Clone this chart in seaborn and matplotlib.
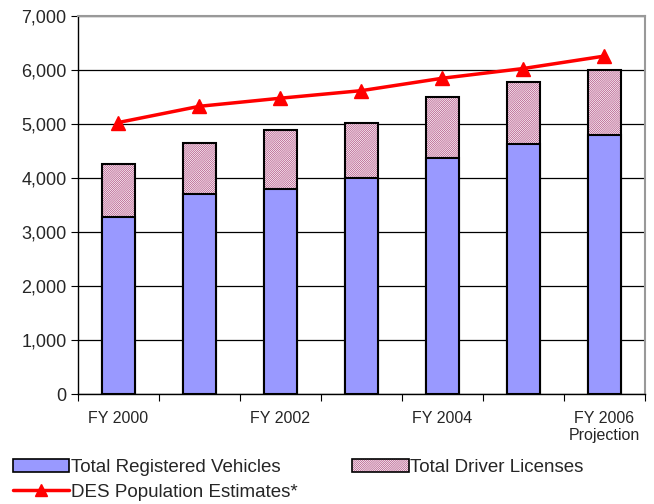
import matplotlib
matplotlib.use("Agg")
import matplotlib.pyplot as plt
import seaborn as sns
import pandas as pd
import numpy as np
from matplotlib.patches import Patch
from matplotlib.lines import Line2D
from matplotlib.legend_handler import HandlerTuple

categories = ["FY 2000", "FY 2001", "FY 2002", "FY 2003", "FY 2004", "FY 2005", "FY 2006"]
tick_labels = ["FY 2000", "", "FY 2002", "", "FY 2004", "", "FY 2006\nProjection"]
vehicles = [3280, 3700, 3800, 4000, 4370, 4630, 4800]
totals = [4260, 4650, 4890, 5030, 5510, 5780, 6000]
population = [5030, 5330, 5480, 5620, 5850, 6030, 6260]

df = pd.DataFrame({"cat": categories, "veh": vehicles, "tot": totals, "pop": population})

sns.set_style("white")
plt.rcParams["font.family"] = ["Liberation Sans", "DejaVu Sans"]
plt.rcParams["hatch.linewidth"] = 0.5

fig = plt.figure(figsize=(6.54, 5.04), dpi=100)
ax = fig.add_axes([0.119, 0.218, 0.867, 0.750])

blue = "#9999FF"
hatch_col = "#B04C80"
HATCH = "/" * 16

# total (licenses on top) hatched bar
sns.barplot(data=df, x="cat", y="tot", ax=ax, color="white", width=0.4,
            saturation=1, edgecolor=hatch_col, linewidth=0, hatch=HATCH, zorder=2)
sns.barplot(data=df, x="cat", y="tot", ax=ax, fill=False, width=0.4,
            edgecolor="black", linewidth=1.5, zorder=3)
sns.barplot(data=df, x="cat", y="veh", ax=ax, color=blue, width=0.4,
            saturation=1, edgecolor="black", linewidth=1.5, zorder=4)

ax.plot(np.arange(len(categories)), population, color="red", lw=2.5,
        marker="^", markersize=10, zorder=5)

ax.set_xlim(-0.5, 6.5)
ax.set_ylim(0, 7000)
ax.set_yticks(range(0, 7001, 1000))
ax.set_yticklabels([f"{v:,}" for v in range(0, 7001, 1000)])
ax.yaxis.grid(True, color="black", lw=0.9, zorder=0)
ax.set_axisbelow(True)

ax.set_xticks(np.arange(-0.5, 7, 1))
ax.set_xticklabels([])
ax.set_xticks(np.arange(len(categories)), minor=True)
ax.set_xticklabels(tick_labels, minor=True, fontsize=11.5, va="top")
ax.tick_params(axis="x", which="major", direction="out", length=5, color="black", bottom=True)
ax.tick_params(axis="x", which="minor", length=0, pad=12)
ax.tick_params(axis="y", direction="out", length=5, color="black", left=True, labelsize=13, pad=3)
ax.set_xlabel("")
ax.set_ylabel("")

for s in ["left", "bottom"]:
    ax.spines[s].set_color("black")
    ax.spines[s].set_linewidth(1.0)
for s in ["top", "right"]:
    ax.spines[s].set_visible(True)
    ax.spines[s].set_color("#999999")
    ax.spines[s].set_linewidth(1.5)

h_veh = Patch(facecolor=blue, edgecolor="black", linewidth=1.2)
h_pop = Line2D([0], [0], color="red", lw=2.5, marker="^", markersize=9)
h_lic = (Patch(facecolor="white", edgecolor=hatch_col, hatch=HATCH, linewidth=0),
         Patch(facecolor="none", edgecolor="black", linewidth=1.2))
leg = fig.legend([h_veh, h_pop, h_lic],
                 ["Total Registered Vehicles", "DES Population Estimates*", "Total Driver Licenses"],
                 handler_map={tuple: HandlerTuple(ndivide=1, pad=0)},
                 loc="lower left", bbox_to_anchor=(0.0, -0.02), ncol=2,
                 frameon=False, fontsize=13.5, handlelength=3.0, handleheight=0.75,
                 handletextpad=0.1, columnspacing=2.9, labelspacing=0.4, borderaxespad=0.3)

fig.savefig("out.png", dpi=100)
